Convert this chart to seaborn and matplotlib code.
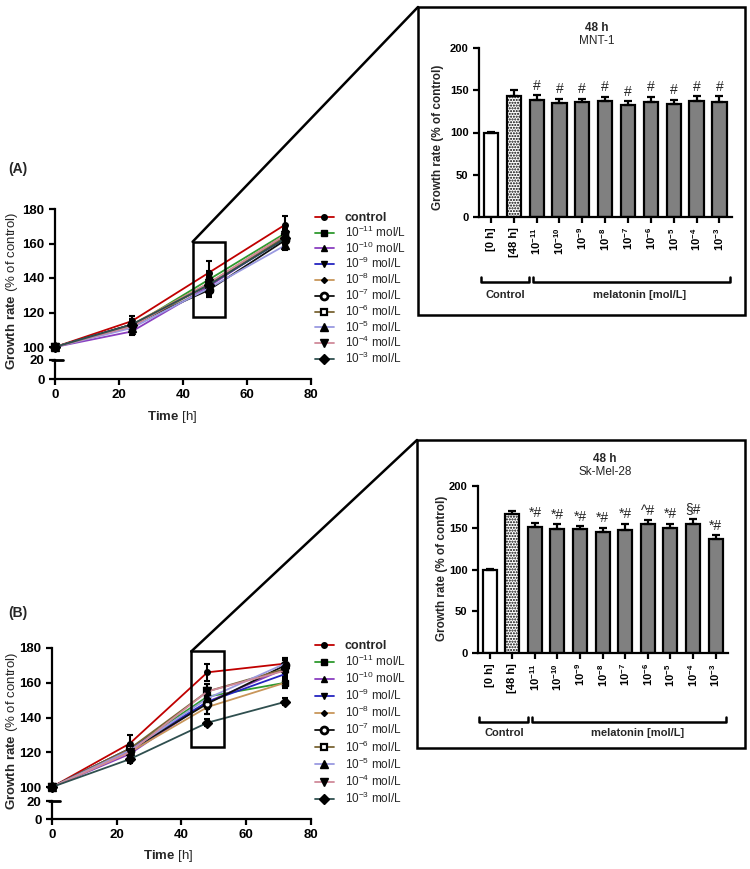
import numpy as np
import pandas as pd
import matplotlib
matplotlib.use('Agg')
import matplotlib.pyplot as plt
import seaborn as sns
from matplotlib.patches import Rectangle, ConnectionPatch
from matplotlib.lines import Line2D

# ---- data ----
times = [0, 24, 48, 72]
conc_labels = ['control', r'10$^{-11}$ mol/L', r'10$^{-10}$ mol/L', r'10$^{-9}$ mol/L',
               r'10$^{-8}$ mol/L', r'10$^{-7}$ mol/L', r'10$^{-6}$ mol/L',
               r'10$^{-5}$ mol/L', r'10$^{-4}$ mol/L', r'10$^{-3}$ mol/L']

# MNT-1 time course (one value per series, same order as conc_labels)
mnt1_0h = [100, 100, 100, 100, 100, 100, 100, 100, 100, 100]
mnt1_24h = [115, 112, 109, 113, 113, 113, 112, 111, 112, 113]
mnt1_48h = [143, 139, 135, 136, 137, 133, 136, 134, 137, 136]
mnt1_72h = [171, 166, 164, 163, 165, 162, 164, 159, 165, 163]
mnt1_err24 = [3, 3, 2, 3, 2, 3, 3, 2, 3, 3]
mnt1_err48 = [7, 5, 5, 4, 5, 4, 5, 5, 6, 6]
mnt1_err72 = [5, 4, 4, 4, 4, 4, 4, 3, 4, 4]

# Sk-Mel-28 time course
skmel_0h = [100, 100, 100, 100, 100, 100, 100, 100, 100, 100]
skmel_24h = [125, 122, 119, 122, 120, 121, 122, 121, 120, 116]
skmel_48h = [166, 152, 149, 149, 146, 148, 155, 151, 155, 137]
skmel_72h = [171, 160, 168, 165, 160, 170, 168, 171, 167, 149]
skmel_err24 = [5, 3, 3, 3, 3, 3, 3, 3, 3, 2]
skmel_err48 = [5, 4, 4, 3, 4, 6, 4, 4, 4, 2]
skmel_err72 = [3, 3, 3, 3, 3, 3, 3, 3, 3, 2]

# 48 h bar insets
bar_labels = ['[0 h]', '[48 h]', r'$\mathbf{10^{-11}}$', r'$\mathbf{10^{-10}}$', r'$\mathbf{10^{-9}}$',
              r'$\mathbf{10^{-8}}$', r'$\mathbf{10^{-7}}$', r'$\mathbf{10^{-6}}$', r'$\mathbf{10^{-5}}$',
              r'$\mathbf{10^{-4}}$', r'$\mathbf{10^{-3}}$']
mnt1_bars = [100, 143, 139, 135, 136, 137, 133, 136, 134, 137, 136]
mnt1_bar_err = [1, 7, 5, 5, 4, 5, 4, 6, 5, 6, 7]
mnt1_marks = ['#'] * 9
skmel_bars = [99, 166, 151, 148, 148, 145, 147, 155, 150, 155, 136]
skmel_bar_err = [2, 4, 5, 6, 4, 5, 8, 4, 5, 6, 5]
skmel_marks = ['*#', '*#', '*#', '*#', '*#', '^#', '*#', '§#', '*#']

# ---- styling ----
line_colors = ['#c00000', '#2e9a2e', '#8a3fc0', '#2424c0', '#c8965a', '#111111',
               '#7a6434', '#9a9ae0', '#d08a9a', '#2f4f4f']
markers = ['o', 's', '^', 'v', 'D', 'o', 's', '^', 'v', 'D']
msizes = [4, 4, 4, 4, 3, 5, 4.5, 5.5, 5.5, 5]
mfaces = ['black'] * 5 + ['white', 'white', 'black', 'black', 'black']
medges = [1, 1, 1, 1, 1, 2, 1.6, 1, 1, 1]
bar_colors = ['white', 'white'] + ['#808080'] * 9

sns.set_style('ticks')
plt.rcParams['font.family'] = ['Liberation Sans', 'DejaVu Sans']
plt.rcParams.update({
    'mathtext.fontset': 'custom', 'mathtext.rm': 'Liberation Sans',
    'mathtext.bf': 'Liberation Sans:bold', 'mathtext.it': 'Liberation Sans:italic',
    'axes.linewidth': 1.6, 'xtick.major.width': 1.6, 'ytick.major.width': 1.6,
    'xtick.major.size': 4, 'ytick.major.size': 4, 'hatch.linewidth': 1.0,
    'axes.edgecolor': 'black', 'xtick.color': 'black', 'ytick.color': 'black',
})

W, H = 750, 869
fig = plt.figure(figsize=(7.5, 8.69), dpi=100)


def fx(x):
    return x / W


def fy(y):
    return 1 - y / H


def pax(l, t, r, b):
    return fig.add_axes([l / W, 1 - b / H, (r - l) / W, (b - t) / H])


def line_panel(left, right, y180, y100, y20, y0, cols, errs, rect, box_corner, leg_xy, leg_space, letter, letter_y, xlab_xy):
    top = pax(left, y180, right, y100 + 5)
    bot = pax(left, y20 - 3, right, y0)
    top.set_ylim(100 - 5 * 80 / (y100 - y180), 180)
    bot.set_ylim(0, 20 * (y0 - y20 + 3) / (y0 - y20))
    for ax in (top, bot):
        ax.set_xlim(0, 80)
        sns.despine(ax=ax)
    top.spines['bottom'].set_visible(False)
    top.tick_params(axis='x', bottom=False, labelbottom=False)
    top.spines['left'].set_bounds(99.6, 180)
    top.set_yticks([100, 120, 140, 160, 180])
    bot.set_yticks([0, 20])
    bot.spines['left'].set_bounds(0, 20.5)
    bot.set_xticks([0, 20, 40, 60, 80])
    for ax in (top, bot):
        for t in ax.get_xticklabels() + ax.get_yticklabels():
            t.set_fontweight('bold')
            t.set_fontsize(9.5)
    bot.plot([-0.012, 0.03], [20, 20], transform=bot.get_yaxis_transform(), color='black', lw=2, clip_on=False)

    for i, lab in enumerate(conc_labels):
        vals = [c[i] for c in cols]
        ev = [e[i] for e in errs]
        top.errorbar(times[1:], vals[1:], yerr=ev, fmt='none', ecolor='black', elinewidth=1.5,
                     capsize=2.5, capthick=1.5, clip_on=False, zorder=3)
        sns.lineplot(x=times, y=vals, ax=top, color=line_colors[i], lw=1.3, marker=markers[i],
                     markersize=msizes[i], markerfacecolor=mfaces[i], markeredgecolor='black',
                     markeredgewidth=medges[i], label=lab, clip_on=False, zorder=4)
    handles, labels = top.get_legend_handles_labels()
    if top.get_legend() is not None:
        top.get_legend().remove()
    top.set_xlabel('')
    top.set_ylabel('')
    leg = fig.legend(handles, labels, loc='upper left', bbox_to_anchor=(fx(leg_xy[0]), fy(leg_xy[1])),
                     frameon=False, fontsize=8.5, borderpad=0, borderaxespad=0, handlelength=1.6,
                     handletextpad=0.9, labelspacing=leg_space)
    leg.get_texts()[0].set_fontweight('bold')
    leg.get_texts()[0].set_fontsize(9)

    x0, x1, ylo, yhi = rect
    top.add_patch(Rectangle((x0, ylo), x1 - x0, yhi - ylo, fill=False, ec='black', lw=1.8,
                            clip_on=False, zorder=6))
    fig.add_artist(ConnectionPatch(xyA=(x0, yhi), coordsA=top.transData,
                                   xyB=(fx(box_corner[0]), fy(box_corner[1])), coordsB=fig.transFigure,
                                   color='black', lw=1.8))
    fig.text(fx(12), fy((y180 + y0) / 2 - 3), r'$\mathbf{Growth\ rate}$ (% of control)', rotation=90,
             ha='center', va='center', fontsize=9.5)
    fig.text(fx(xlab_xy[0]), fy(xlab_xy[1]), r'$\mathbf{Time}$ [h]', ha='center', va='center', fontsize=9.5)
    fig.text(fx(8), fy(letter_y), letter, fontweight='bold', fontsize=10, ha='left', va='center')


def bar_panel(box, axbox, vals, errs, marks, title_xy, cell, ylab_xy, brackets, lab_y):
    l, t, r, b = box
    fig.add_artist(Rectangle((fx(l), fy(b)), (r - l) / W, (b - t) / H, transform=fig.transFigure,
                             fill=False, ec='black', lw=1.8))
    ax = pax(*axbox)
    df = pd.DataFrame({'cond': bar_labels, 'val': vals})
    sns.barplot(data=df, x='cond', y='val', hue='cond', palette=bar_colors, legend=False,
                edgecolor='black', linewidth=1.6, width=0.62, saturation=1, errorbar=None, ax=ax)
    ax.patches[1].set_hatch('......')
    ax.errorbar(range(len(vals)), vals, yerr=[np.zeros(len(vals)), errs], fmt='none', ecolor='black',
                elinewidth=1.6, capsize=3, capthick=1.6, zorder=5)
    for i, m in enumerate(marks):
        k = i + 2
        ax.text(k, vals[k] + errs[k] + 3, m, ha='center', va='bottom', fontsize=10)
    ax.set_ylim(0, 200)
    ax.set_xlim(-0.52, 10.55)
    ax.set_yticks([0, 50, 100, 150, 200])
    ax.set_xticks(range(len(vals)))
    ax.set_xticklabels(bar_labels, rotation=90, fontweight='bold', fontsize=8)
    for tl in ax.get_yticklabels():
        tl.set_fontweight('bold')
        tl.set_fontsize(8)
    ax.set_xlabel('')
    ax.set_ylabel('')
    sns.despine(ax=ax)
    fig.text(fx(title_xy[0]), fy(title_xy[1]), '48 h', fontweight='bold', fontsize=8.5, ha='center', va='center')
    fig.text(fx(title_xy[0]), fy(title_xy[1] + 13), cell, fontsize=8.5, ha='center', va='center')
    fig.text(fx(ylab_xy[0]), fy(ylab_xy[1]), 'Growth rate (% of control)', fontweight='bold',
             fontsize=8.5, rotation=90, ha='center', va='center')
    for (x1, x2, yb, name, xc) in brackets:
        fig.add_artist(Line2D([fx(x1), fx(x1), fx(x2), fx(x2)], [fy(yb - 5), fy(yb), fy(yb), fy(yb - 5)],
                              transform=fig.transFigure, color='black', lw=1.8))
        fig.text(fx(xc), fy(lab_y), name, fontweight='bold', fontsize=8, ha='center', va='center')


# panel A
line_panel(55, 311, 209, 347, 360, 379,
           [mnt1_0h, mnt1_24h, mnt1_48h, mnt1_72h], [mnt1_err24, mnt1_err48, mnt1_err72],
           (43, 53, 117.5, 161), (418, 7), (315, 212), 0.05, '(A)', 169, (172, 417))
bar_panel((418, 7, 745, 315), (479, 48, 732, 217), mnt1_bars, mnt1_bar_err, mnt1_marks,
          (597, 28), 'MNT-1', (438, 137),
          [(481, 529, 282, 'Control', 505), (533, 730, 282, 'melatonin [mol/L]', 640)], 295)

# panel B
line_panel(52, 311, 648, 787, 801, 819,
           [skmel_0h, skmel_24h, skmel_48h, skmel_72h], [skmel_err24, skmel_err48, skmel_err72],
           (43, 53, 123, 178), (417, 440), (315, 640), 0.16, '(B)', 613, (168, 856))
bar_panel((417, 440, 745, 748), (478, 486, 728, 653), skmel_bars, skmel_bar_err, skmel_marks,
          (605, 459), 'Sk-Mel-28', (442, 568),
          [(479, 528, 722, 'Control', 504), (532, 726, 722, 'melatonin [mol/L]', 638)], 733)

fig.savefig('out.png', dpi=100)
